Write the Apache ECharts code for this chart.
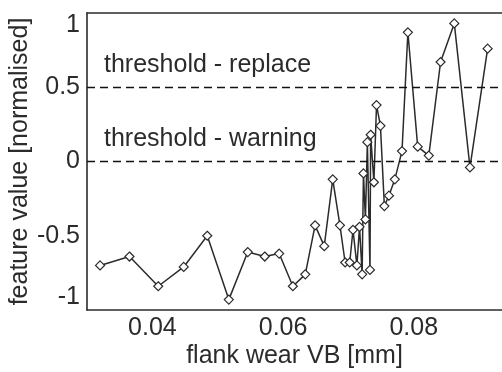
<!DOCTYPE html>
<html>
<head>
<meta charset="utf-8">
<script src="https://cdn.jsdelivr.net/npm/echarts@6/dist/echarts.min.js"></script>
<style>
  html, body { margin: 0; padding: 0; background: #fff; }
  #chart { width: 502px; height: 372px; }
</style>
</head>
<body>
<div id="chart"></div>
<script>
// flank wear VB [mm]
const wear = [
  0.0320, 0.0365, 0.0409, 0.0448, 0.0484, 0.0517, 0.0546, 0.0572, 0.0594, 0.0615,
  0.0634, 0.0649, 0.0663, 0.0676, 0.0687, 0.0695, 0.0702, 0.0707, 0.0713, 0.0717,
  0.0721, 0.0723, 0.0726, 0.0729, 0.0733, 0.0734, 0.0739, 0.0743, 0.0749, 0.0755,
  0.0762, 0.0771, 0.0782, 0.0791, 0.0806, 0.0823, 0.0841, 0.0862, 0.0886, 0.0913
];
// feature value [normalised]
const feature = [
  -0.70, -0.64, -0.84, -0.71, -0.50, -0.93, -0.61, -0.64, -0.62, -0.84,
  -0.76, -0.43, -0.57, -0.12, -0.43, -0.68, -0.68, -0.46, -0.70, -0.44,
  -0.76, -0.08, -0.39, 0.13, -0.73, 0.18, -0.14, 0.38, 0.24, -0.30,
  -0.23, -0.12, 0.07, 0.87, 0.10, 0.04, 0.67, 0.93, -0.04, 0.76
];
const thresholds = [
  { name: 'threshold - replace', value: 0.5 },
  { name: 'threshold - warning', value: 0 }
];
const xTicks = [0.04, 0.06, 0.08];

const font = 'Liberation Sans, Arial, sans-serif';
const ink = '#2b2b2b';
const fs = 25;
const frame = { show: true, onZero: false, lineStyle: { color: ink, width: 1.6 } };

const chart = echarts.init(document.getElementById('chart'));

chart.setOption({
  animation: false,
  backgroundColor: '#fff',
  textStyle: { fontFamily: font },
  grid: { left: 87, right: 0, top: 13, bottom: 62, outerBoundsMode: 'none' },
  xAxis: [{
    type: 'value',
    min: 0.03,
    max: 0.0935,
    name: 'flank wear VB [mm]',
    nameLocation: 'middle',
    nameGap: 34,
    nameMoveOverlap: false,
    nameTextStyle: { fontSize: fs, color: ink, fontFamily: font },
    axisLine: frame,
    axisTick: { show: false },
    splitLine: { show: false },
    axisLabel: {
      customValues: xTicks,
      formatter: v => v.toFixed(2),
      fontSize: fs, color: ink, fontFamily: font, margin: 6
    }
  }, {
    // top edge of the box
    type: 'value',
    position: 'top',
    min: 0.03,
    max: 0.0935,
    axisLine: frame,
    axisTick: { show: false },
    axisLabel: { show: false },
    splitLine: { show: false }
  }],
  yAxis: {
    type: 'value',
    min: -1,
    max: 1,
    interval: 0.5,
    name: 'feature value [normalised]',
    nameLocation: 'middle',
    nameRotate: 90,
    nameGap: 54,
    nameMoveOverlap: false,
    nameTextStyle: { fontSize: fs, color: ink, fontFamily: font },
    axisLine: frame,
    axisTick: { show: false },
    splitLine: { show: false },
    axisLabel: {
      fontSize: fs, color: ink, fontFamily: font, margin: 7,
      verticalAlignMaxLabel: 'top',
      verticalAlignMinLabel: 'bottom'
    }
  },
  series: [{
    type: 'line',
    xAxisIndex: 0,
    data: wear.map((x, i) => [x, feature[i]]),
    showAllSymbol: true,
    symbol: 'diamond',
    symbolSize: 9,
    lineStyle: { color: ink, width: 1.5 },
    itemStyle: { color: '#fff', borderColor: ink, borderWidth: 1.2 },
    markLine: {
      silent: true,
      symbol: 'none',
      lineStyle: { color: '#111', width: 1.4, type: [8, 5] },
      label: {
        position: 'insideStartTop',
        formatter: '{b}',
        fontSize: fs,
        color: ink,
        fontFamily: font,
        distance: [17, 10]
      },
      data: thresholds.map(t => ({ name: t.name, yAxis: t.value }))
    }
  }]
});
</script>
</body>
</html>
